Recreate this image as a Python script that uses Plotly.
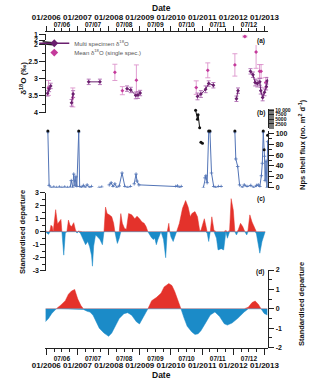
import numpy as np
import plotly.graph_objects as go

W, H = 320, 382

# --- panneau (a) : delta 18O ---
multi_annee = [2006.04, 2006.09, 2006.14, None, 2006.81, 2006.86, None, 2007.36, 2007.72, None,
               2008.59, 2008.71, 2008.87, 2008.94, 2009.01, None,
               2010.85, 2010.96, 2011.11, 2011.21, 2011.36, None,
               2012.10, 2012.15, None,
               2012.55, 2012.63, 2012.70, 2012.77, 2012.85, 2012.88, 2012.94, 2013.00, 2013.06, 2013.09]
multi_d18o = [3.43, 3.30, 3.21, None, 3.71, 3.45, None, 3.09, 3.09, None,
              3.29, 3.33, 3.49, 3.48, 3.42, None,
              3.52, 3.45, 3.31, 3.14, 3.19, None,
              3.59, 3.35, None,
              2.78, 2.88, 3.11, 3.14, 3.09, 3.35, 3.55, 3.40, 3.23, 3.06]
multi_err = [0.08, 0.08, 0.08, 0, 0.1, 0.1, 0, 0.08, 0.08, 0,
             0.08, 0.08, 0.1, 0.1, 0.08, 0,
             0.1, 0.1, 0.1, 0.08, 0.08, 0,
             0.08, 0.08, 0,
             0.08, 0.08, 0.1, 0.1, 0.1, 0.1, 0.1, 0.1, 0.1, 0.1]

mean_annee = [2006.07, 2006.85, 2008.20, 2008.44, 2008.89, 2010.81, 2011.18, 2012.05,
              2012.73, 2012.84, 2012.89, 2013.04]
mean_d18o = [3.27, 3.55, 2.81, 3.35, 3.04, 3.26, 2.75, 2.59, 2.21, 2.78, 2.78, 3.11]
mean_err = [0.22, 0.28, 0.24, 0.12, 0.45, 0.2, 0.22, 0.33, 0.48, 0.2, 0.2, 0.15]

haut_annee = [2012.37]
haut_d18o = [1.4]
haut_err = [0.1]

# --- panneau (b) : flux de coquilles ---
flux_annee = [2006.05, 2006.09, 2006.15, 2006.24, 2006.33, 2006.42, 2006.50, 2006.59, 2006.68,
              2006.77, 2006.80, 2006.85, 2006.88, 2006.92, 2006.95, 2006.98, 2007.04, 2007.07,
              2007.13, 2007.19, 2007.25, 2007.31, 2007.39, 2007.45, None,
              2007.69, 2007.78, None,
              2008.02, 2008.08, 2008.14, 2008.20, 2008.26, 2008.34, 2008.43, 2008.52, 2008.61,
              2008.70, None,
              2008.82, 2008.88, 2008.91, 2008.97, 2010.15, 2010.21, 2010.27, 2010.33, None,
              2011.04, 2011.09, 2011.12, 2011.16, 2011.21, 2011.25, 2011.30, 2011.37, 2011.43,
              2011.52, 2011.61, None,
              2012.05, 2012.08, 2012.14, 2012.20, 2012.29, 2012.35, 2012.44, 2012.56, 2012.65,
              2012.74, 2012.80, 2012.85, 2012.90, 2012.93, 2012.96, 2013.00, 2013.02, 2013.05,
              2013.08, 2013.10]
flux_val = [103, 4, 0, 1, 0, 1, 0, 1, 0,
            1, 13, 0, 25, 4, 20, 2, 103, 2,
            0, 4, 0, 5, 0, 2, None,
            0, 1, None,
            5, 9, 2, 7, 0, 3, 27, 2, 0,
            2, None,
            7, 25, 12, 5, 2, 3, 0, 2, None,
            0, 18, 22, 9, 103, 103, 27, 2, 0,
            2, 2, None,
            103, 53, 39, 5, 0, 5, 2, 4, 0,
            4, 5, 2, 22, 45, 103, 58, 13, 49,
            0, 85]

noir_annee = [2006.05, 2007.04, 2010.96, 2011.01, 2011.21, 2011.25, 2012.05, 2012.96, 2012.99, 2013.10]
noir_val = [105, 105, 84, 82, 105, 105, 105, 105, 70, 97]

fort_annee = [2010.79, 2010.85, 2010.87, 2010.92]
fort_val = [9860, 5030, 7500, 300]

# --- panneau (c) : anomalie standardisee ---
c_annee = [2005.97, 2006.02, 2006.07, 2006.12, 2006.15, 2006.19, 2006.22, 2006.27, 2006.30, 2006.36,
           2006.42, 2006.47, 2006.50, 2006.56, 2006.61, 2006.66, 2006.71, 2006.76, 2006.81, 2006.88,
           2006.94, 2006.99, 2007.03, 2007.09, 2007.16, 2007.26, 2007.33, 2007.39, 2007.45, 2007.48,
           2007.52, 2007.58, 2007.65, 2007.72, 2007.80, 2007.85, 2007.90, 2007.95, 2008.02, 2008.10,
           2008.16, 2008.20, 2008.25, 2008.28, 2008.34, 2008.39, 2008.44, 2008.51, 2008.57, 2008.64,
           2008.74, 2008.84, 2008.91, 2008.99, 2009.07, 2009.14, 2009.20, 2009.26, 2009.36, 2009.43,
           2009.48, 2009.53, 2009.58, 2009.66, 2009.68, 2009.76, 2009.83, 2009.88, 2009.93, 2009.96,
           2010.00, 2010.07, 2010.12, 2010.18, 2010.27, 2010.37, 2010.47, 2010.55, 2010.62, 2010.67,
           2010.77, 2010.85, 2010.92, 2010.96, 2011.07, 2011.11, 2011.16, 2011.21, 2011.26, 2011.31,
           2011.38, 2011.46, 2011.51, 2011.61, 2011.69, 2011.76, 2011.81, 2011.88, 2011.93, 2012.00,
           2012.05, 2012.10, 2012.15, 2012.23, 2012.30, 2012.37, 2012.43, 2012.47, 2012.53, 2012.60,
           2012.70, 2012.74, 2012.85, 2012.92, 2012.99, 2013.02]
c_val = [0.13, -0.1, -0.2, 0.1, 0.5, 0.4, 0.0, 0.9, 1.7, 0.6,
         0.8, 0.95, 0.0, -1.8, -0.1, 0.0, 0.9, 0.5, 0.4, 0.7,
         0.1, -0.1, 0.05, -0.1, -0.5, -1.0, -0.75, -1.15, -1.8, -2.65,
         -1.1, -0.25, -0.4, -0.6, -1.0, 0.0, 1.9, 1.4, 1.3, 1.15,
         0.65, 0.0, -0.6, -0.9, -0.5, 1.4, 0.65, 0.25, 0.2, 1.4,
         1.3, 1.0, 1.2, 1.0, 0.75, 0.65, 0.4, 0.0, -0.4, -0.6,
         -0.5, -1.0, -0.6, -0.1, 0.0, -0.6, -2.0, 0.0, 0.65, 0.0,
         -0.4, -0.75, -0.4, 0.0, 0.65, 1.8, 2.4, 1.9, 1.15, 1.4,
         1.55, 1.15, 0.1, 0.1, 1.0, 0.5, -0.1, -0.75, 0.0, 1.15,
         0.1, -0.5, -1.4, -1.3, -1.4, 0.1, -0.5, 0.1, 2.55, 1.65,
         0.0, -0.25, 0.1, 0.65, 0.4, 0.0, -0.25, 0.1, 1.3, 0.75,
         0.1, -0.15, -1.65, -0.75, -0.15, 0.0]

# --- panneau (d) : anomalie lissee ---
d_annee = [2005.97, 2006.07, 2006.17, 2006.32, 2006.47, 2006.61, 2006.71, 2006.81, 2006.91, 2007.01,
           2007.11, 2007.19, 2007.31, 2007.40, 2007.50, 2007.60, 2007.70, 2007.85, 2008.00, 2008.10,
           2008.20, 2008.34, 2008.49, 2008.61, 2008.74, 2008.89, 2008.99, 2009.09, 2009.26, 2009.38,
           2009.53, 2009.68, 2009.78, 2009.93, 2010.03, 2010.12, 2010.22, 2010.32, 2010.42, 2010.52,
           2010.67, 2010.77, 2010.87, 2010.96, 2011.11, 2011.26, 2011.41, 2011.56, 2011.71, 2011.81,
           2011.96, 2012.15, 2012.35, 2012.48, 2012.60, 2012.70, 2012.80, 2012.89, 2012.99, 2013.09]
d_val = [-0.67, -0.5, -0.25, 0.0, 0.2, 0.42, 0.75, 0.92, 1.0, 0.5,
         0.17, -0.03, -0.13, -0.17, -0.33, -0.67, -1.0, -1.25, -1.42, -1.25,
         -0.92, -0.5, -0.25, -0.2, -0.33, -0.67, -0.78, -0.5, 0.0, 0.42,
         0.58, 0.8, 1.13, 1.3, 1.2, 0.89, 0.4, 0.0, -0.48, -0.9,
         -1.2, -1.32, -1.29, -1.13, -0.73, -0.32, -0.16, -0.4, -0.77, -0.84,
         -0.73, -0.48, -0.16, 0.08, 0.32, 0.4, 0.24, 0.0, -0.24, -0.32]

annees_jan = [2006, 2007, 2008, 2009, 2010, 2011, 2012, 2013]
labels_jan = ["01/2006", "01/2007", "01/2008", "01/2009", "01/2010", "01/2011", "01/2012", "01/2013"]
annees_jul = [2006.5, 2007.5, 2008.5, 2009.5, 2010.5, 2011.5, 2012.5]
labels_jul = ["07/06", "07/07", "07/08", "07/09", "07/10", "07/11", "07/12"]

ROUGE = "#e4322b"
BLEU = "#1b8bc8"
VIOLET = "#6a1f6e"
ROSE = "#c43a9b"
POLICE = "Arial, Liberation Sans, sans-serif"


def fy(py):
    return 1 - py / H


def fx(px):
    return px / W


xl, xr = fx(35), fx(276)
xrange = [2005.97, 2013.122]

fig = go.Figure()

# (a)
fig.add_trace(go.Scatter(x=mean_annee, y=mean_d18o, mode="markers", xaxis="x", yaxis="y",
                         marker=dict(symbol="diamond", size=3, color=ROSE),
                         error_y=dict(type="data", array=mean_err, color="#dc94cc", thickness=0.9, width=2.5),
                         showlegend=False, cliponaxis=False))
fig.add_trace(go.Scatter(x=haut_annee, y=haut_d18o, mode="markers", xaxis="x", yaxis="y2",
                         marker=dict(symbol="diamond", size=3, color=ROSE),
                         error_y=dict(type="data", array=haut_err, color="#dc94cc", thickness=0.9, width=2.5),
                         showlegend=False))
fig.add_trace(go.Scatter(x=multi_annee, y=multi_d18o, mode="lines+markers", xaxis="x", yaxis="y",
                         line=dict(color=VIOLET, width=1),
                         marker=dict(symbol="diamond", size=3, color=VIOLET),
                         error_y=dict(type="data", array=multi_err, color="#b06cb2", thickness=0.9, width=2),
                         showlegend=False, connectgaps=False))
# entrees de legende (une legende par ligne pour garder l'espacement serre)
fig.add_trace(go.Scatter(x=[None], y=[None], mode="lines+markers", name="Multi specimen δ<sup>18</sup>O",
                         line=dict(color=VIOLET, width=1.5), legend="legend",
                         marker=dict(symbol="diamond", size=6, color=VIOLET)))
fig.add_trace(go.Scatter(x=[None], y=[None], mode="markers", name="Mean δ<sup>18</sup>O (single spec.)",
                         legend="legend2", marker=dict(symbol="diamond", size=6, color=ROSE)))

# (b)
fig.add_trace(go.Scatter(x=flux_annee, y=flux_val, mode="lines+markers", xaxis="x", yaxis="y3",
                         line=dict(color="#5274b6", width=1),
                         marker=dict(symbol="cross-thin", size=2.5, line=dict(color="#5274b6", width=0.8)),
                         showlegend=False, connectgaps=False))
fig.add_trace(go.Scatter(x=noir_annee, y=noir_val, mode="markers", xaxis="x", yaxis="y3",
                         marker=dict(symbol="circle", size=3, color="#111"),
                         showlegend=False, cliponaxis=False))
fig.add_trace(go.Scatter(x=fort_annee, y=fort_val, mode="lines+markers", xaxis="x", yaxis="y4",
                         line=dict(color="#111", width=1),
                         marker=dict(symbol="circle", size=3, color="#111"),
                         showlegend=False, cliponaxis=False))

# (c) et (d) : rouge au-dessus de 0, bleu en dessous
for annees, vals, ya in [(c_annee, c_val, "y5"), (d_annee, d_val, "y6")]:
    v = np.array(vals)
    fig.add_trace(go.Scatter(x=annees, y=np.maximum(v, 0), mode="lines", fill="tozeroy",
                             fillcolor=ROUGE, line=dict(color=ROUGE, width=0.5),
                             xaxis="x", yaxis=ya, showlegend=False))
    fig.add_trace(go.Scatter(x=annees, y=np.minimum(v, 0), mode="lines", fill="tozeroy",
                             fillcolor=BLEU, line=dict(color=BLEU, width=0.5),
                             xaxis="x", yaxis=ya, showlegend=False))

# traces vides pour les axes de dates supplementaires
for xa in ["x2", "x3", "x4"]:
    fig.add_trace(go.Scatter(x=[None], y=[None], xaxis=xa, yaxis="y", showlegend=False, hoverinfo="skip"))

axe = dict(showline=True, linecolor="#222", linewidth=1, showgrid=False, zeroline=False,
           tickcolor="#222", ticks="outside")
f_tick = dict(family=POLICE, size=7, color="#111", weight="bold")
f_date = dict(family=POLICE, size=8, color="#111", weight="bold")
f_mois = dict(family=POLICE, size=6.5, color="#111", weight="bold")
f_leg = dict(family=POLICE, size=6, color="#555")

fig.update_layout(
    width=W, height=H, autosize=False,
    margin=dict(l=0, r=0, t=0, b=0),
    paper_bgcolor="white", plot_bgcolor="rgba(0,0,0,0)",
    xaxis=dict(axe, domain=[xl, xr], range=xrange, anchor="free", position=fy(350),
               tickvals=annees_jan, ticktext=labels_jan, ticklen=6, tickfont=f_date,
               tickangle=0, ticklabelstandoff=4,
               minor=dict(dtick=0.25, tick0=2006, ticks="outside", ticklen=3, tickcolor="#222")),
    xaxis2=dict(overlaying="x", range=xrange, anchor="free", position=fy(350), showline=False,
                showgrid=False, zeroline=False, ticks="", tickvals=annees_jul, ticktext=labels_jul,
                tickfont=f_mois, tickangle=0, ticklabelstandoff=6),
    xaxis3=dict(axe, overlaying="x", side="top", range=xrange, anchor="free", position=fy(27.5),
                tickvals=annees_jan, ticktext=labels_jan, ticklen=5, tickfont=f_date,
                tickangle=0, ticklabelstandoff=3,
                minor=dict(dtick=0.25, tick0=2006, ticks="outside", ticklen=2.5, tickcolor="#222")),
    xaxis4=dict(overlaying="x", side="top", range=xrange, anchor="free", position=fy(27.5),
                showline=False, showgrid=False, zeroline=False, ticks="", tickangle=0,
                ticklabelstandoff=3, tickvals=annees_jul, ticktext=labels_jul, tickfont=f_mois),
    yaxis=dict(axe, domain=[fy(110.7), fy(41.7)], range=[4, 2], anchor="free", position=xl,
               tickvals=[2, 2.5, 3, 3.5, 4], ticktext=["2", "2.5", "3", "3.5", "4"], ticklen=6,
               tickfont=f_tick,
               minor=dict(dtick=0.25, ticks="outside", ticklen=3, tickcolor="#222")),
    yaxis2=dict(axe, domain=[fy(36.7), fy(30.7)], range=[2, 1], anchor="free", position=xl,
                tickvals=[1, 2], ticktext=["1", "2"], ticklen=6, tickfont=f_tick),
    yaxis3=dict(axe, domain=[fy(187), fy(129.25)], range=[0, 105], side="right", anchor="free",
                position=xr, tickvals=[0, 20, 40, 60, 80, 100],
                ticktext=["0", "20", "40", "60", "80", "100"], ticklen=5, tickfont=f_tick,
                minor=dict(dtick=10, ticks="outside", ticklen=3, tickcolor="#222")),
    yaxis4=dict(axe, domain=[fy(126.7), fy(107.1)], range=[0, 10500], side="right", anchor="free",
                position=xr, tickvals=[2500, 5000, 7500, 10000],
                ticktext=["2500", "5000", "7500", "10 000"], ticklen=5,
                tickfont=dict(f_tick, size=5),
                minor=dict(dtick=500, ticks="outside", ticklen=5, tickcolor="#777")),
    yaxis5=dict(axe, domain=[fy(271.7), fy(192.3)], range=[-3, 3], anchor="free", position=xl,
                tickvals=[-3, -2, -1, 0, 1, 2, 3], ticktext=["-3", "-2", "-1", "0", "1", "2", "3"],
                ticklen=5, tickfont=f_tick,
                minor=dict(dtick=0.5, ticks="outside", ticklen=3, tickcolor="#222")),
    yaxis6=dict(axe, domain=[fy(350), fy(271)], range=[-2, 2], side="right", anchor="free",
                position=xr, tickvals=[-2, -1, 0, 1, 2], ticktext=["-2", "-1", "0", "1", "2"],
                ticklen=5, tickfont=f_tick,
                minor=dict(dtick=0.5, ticks="outside", ticklen=3, tickcolor="#222")),
    legend=dict(x=fx(23), y=fy(40), xanchor="left", yanchor="middle", bgcolor="rgba(0,0,0,0)",
                font=f_leg, itemwidth=30, itemsizing="trace"),
    legend2=dict(x=fx(23), y=fy(49.5), xanchor="left", yanchor="middle", bgcolor="rgba(0,0,0,0)",
                 font=f_leg, itemwidth=30, itemsizing="trace"),
)

# coupure de l'axe (a)
fig.add_shape(type="line", xref="paper", yref="paper", x0=fx(32), x1=fx(43), y0=fy(38.5), y1=fy(39.5),
              line=dict(color="#222", width=1.5))
fig.add_shape(type="line", xref="paper", yref="paper", x0=fx(32), x1=fx(43), y0=fy(40.5), y1=fy(41.5),
              line=dict(color="#222", width=1.5))


def texte(t, px, py, taille=7, angle=0):
    fig.add_annotation(text=t, x=fx(px), y=fy(py), xref="paper", yref="paper", showarrow=False,
                       xanchor="center", yanchor="middle", textangle=angle,
                       font=dict(family=POLICE, size=taille, color="#111", weight="bold"))


texte("Date", 160, 4.5, 8.5)
texte("Date", 160, 377.5, 8.5)
texte("δ<sup>18</sup>O (‰)", 10, 76, 8, -90)
texte("Standardised departure", 10, 232, 7.5, -90)
texte("Nps shell flux (no. m<sup>2</sup> d<sup>-1</sup>)", 313, 143, 7.5, -90)
texte("Standardised departure", 312, 306, 7.5, -90)
texte("(a)", 268, 38, 6.5)
texte("(b)", 268, 111, 6.5)
texte("(c)", 268, 199, 6.5)
texte("(d)", 267, 273, 6.5)

# la page par defaut a une marge de 8 px autour du graphique
fig.write_html("out.html", config={"displayModeBar": False},
               post_script="document.body.style.margin='0';")
